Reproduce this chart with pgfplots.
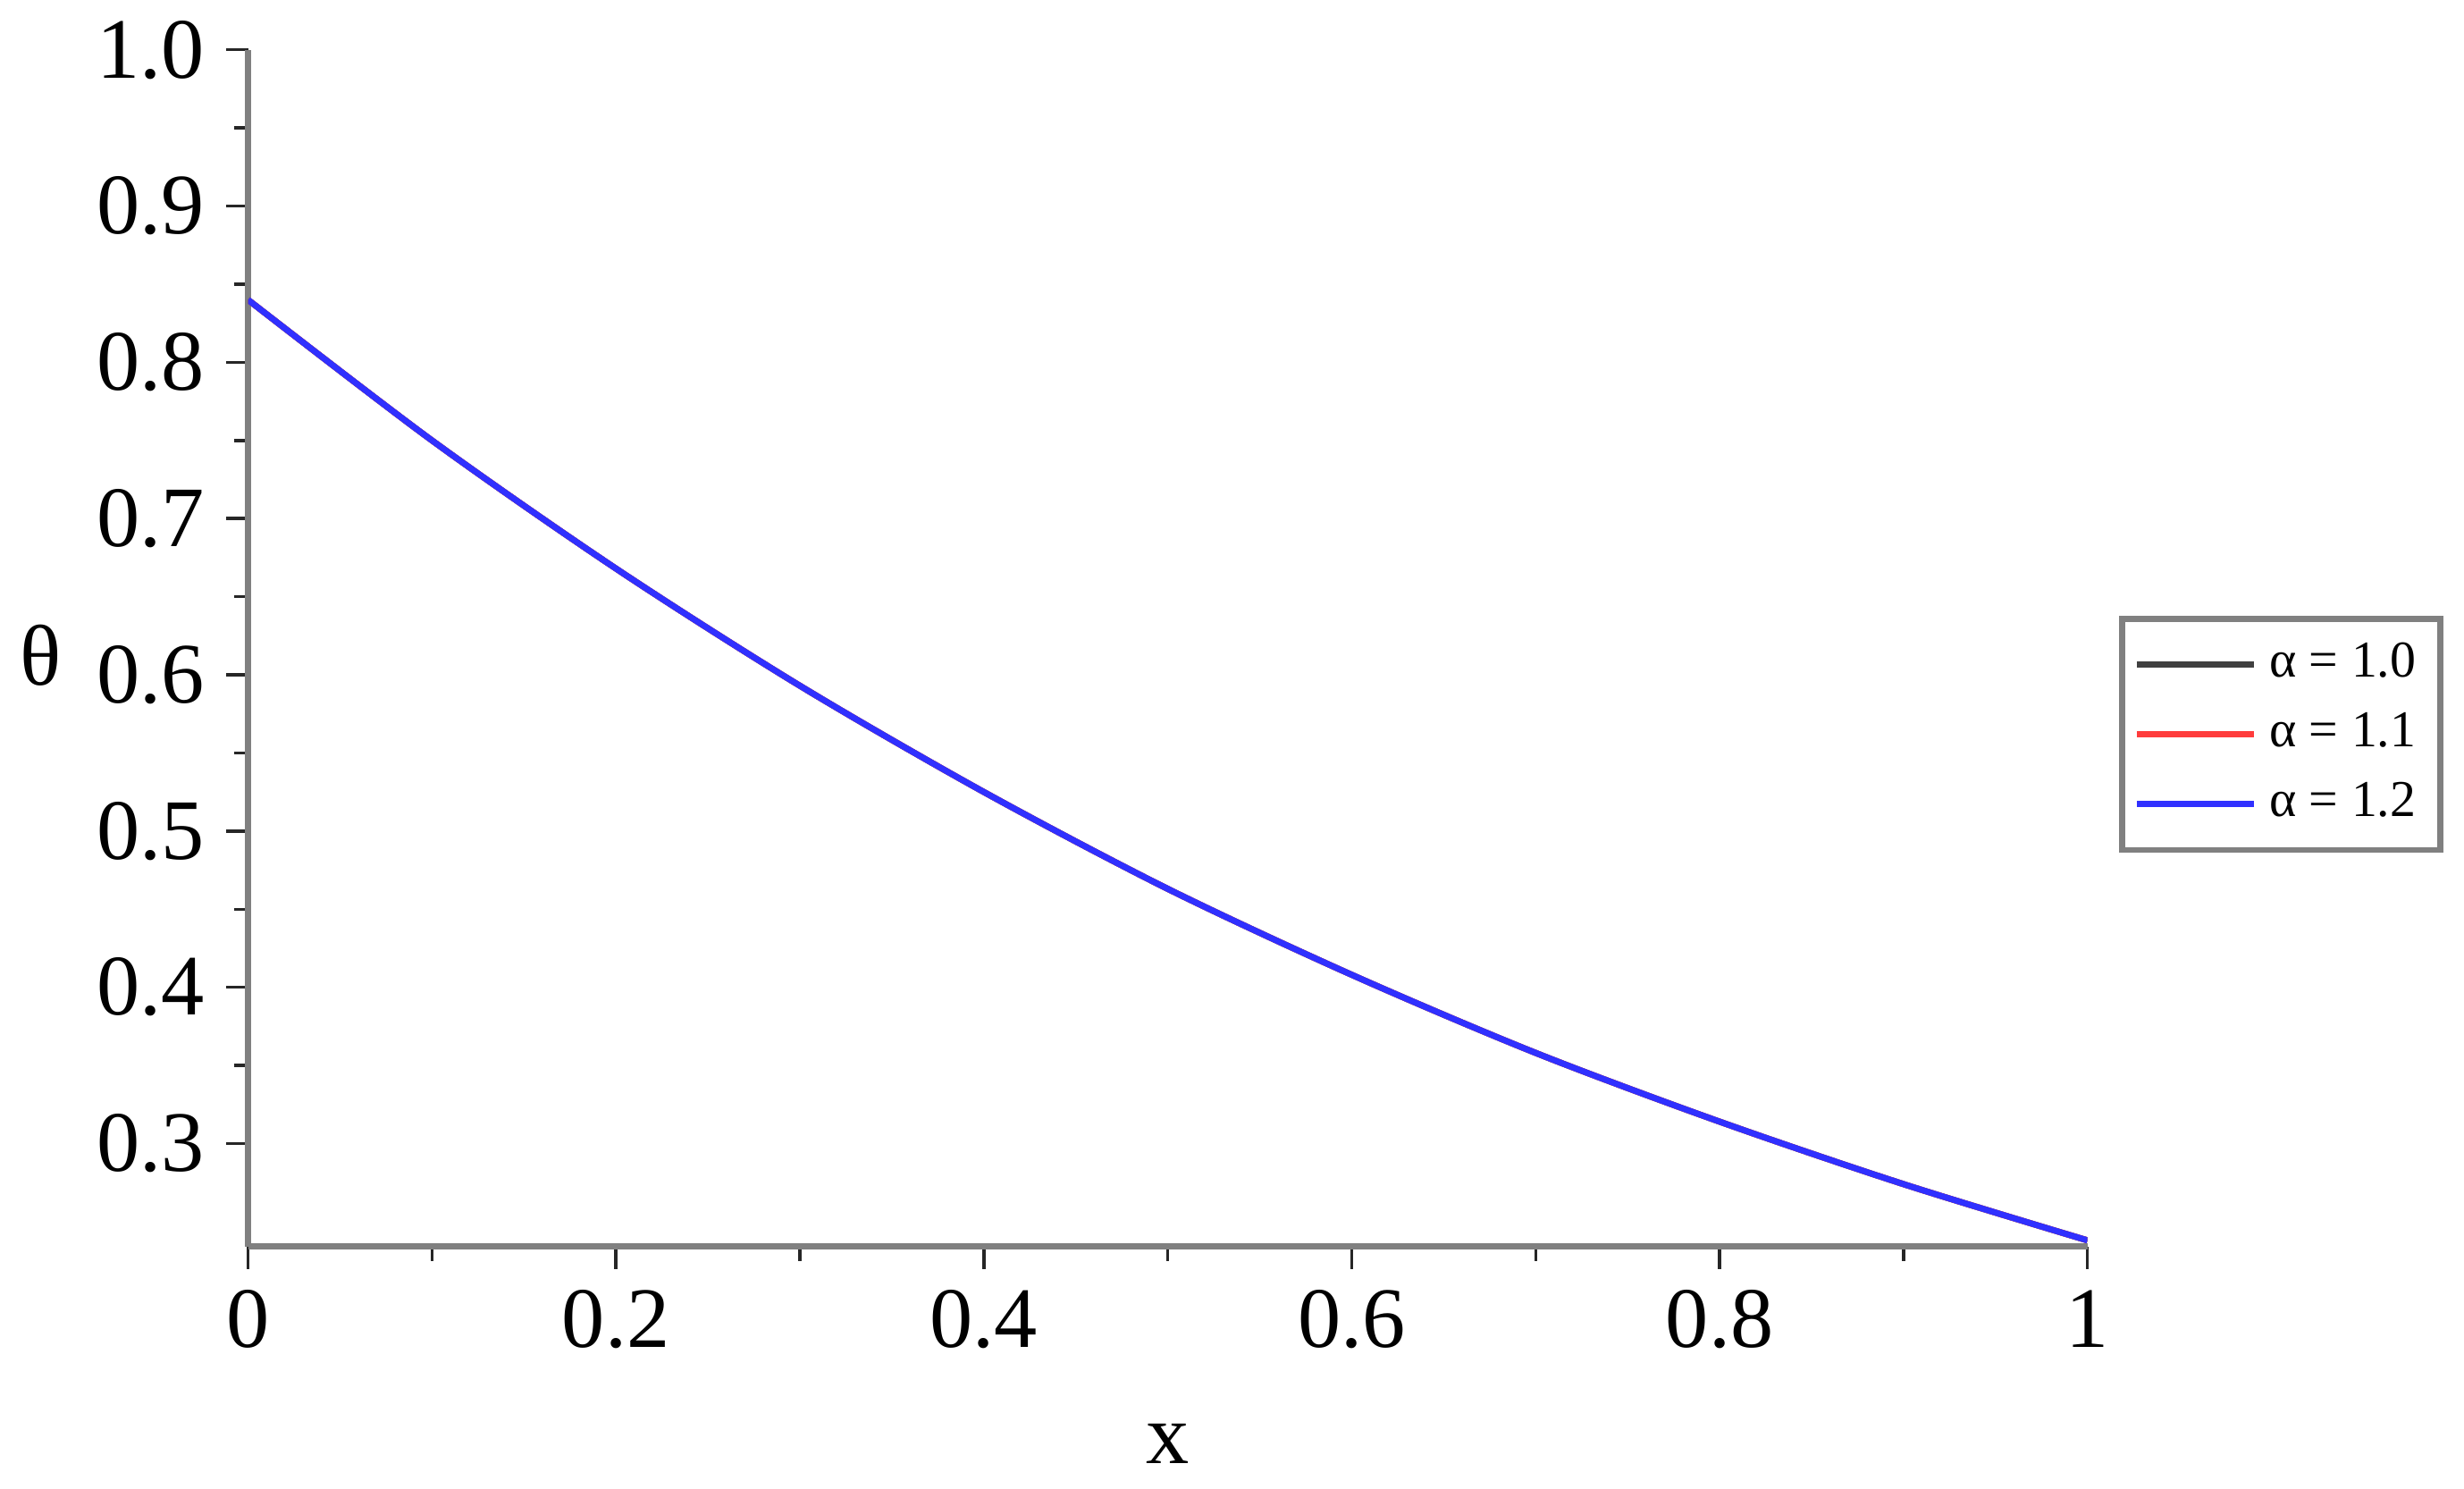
\documentclass[border=0pt]{standalone}
\usepackage{pgfplots}
\usepackage{pgfplotstable}
\pgfplotsset{compat=1.18}
\usepackage{fontspec}
\setmainfont{Liberation Serif}

\definecolor{axgray}{HTML}{808080}
\definecolor{cblack}{HTML}{404040}
\definecolor{cred}{HTML}{FF3C3C}
\definecolor{cblue}{HTML}{3030FF}

% theta(x) for the three alpha values (curves coincide)
\pgfplotstableread{
x     a10    a11    a12
0.0   0.840  0.840  0.840
0.1   0.750  0.750  0.750
0.2   0.668  0.668  0.668
0.3   0.593  0.593  0.593
0.4   0.525  0.525  0.525
0.5   0.463  0.463  0.463
0.6   0.408  0.408  0.408
0.7   0.358  0.358  0.358
0.8   0.314  0.314  0.314
0.9   0.274  0.274  0.274
1.0   0.238  0.238  0.238
}\thetadata

\begin{document}
\begin{tikzpicture}
\begin{axis}[
    name=ax,
    scale only axis,
    width=299.1pt, height=194.6pt,
    xmin=0, xmax=1,
    ymin=0.234, ymax=1.0,
    axis x line*=bottom,
    axis y line*=left,
    axis line style={axgray, line width=1pt, -},
    tick align=outside,
    tick style={black!85, line width=0.5pt},
    major tick length=3.6pt,
    minor tick length=2.3pt,
    xtick={0,0.2,0.4,0.6,0.8,1},
    ytick={0.3,0.4,0.5,0.6,0.7,0.8,0.9,1.0},
    minor x tick num=1,
    minor y tick num=1,
    yticklabel style={/pgf/number format/fixed, /pgf/number format/precision=1, /pgf/number format/fixed zerofill},
    /pgf/number format/assume math mode=true,
    ticklabel style={font=\fontsize{14}{16}\selectfont},
    xlabel={x},
    ylabel={θ},
    label style={font=\fontsize{14}{16}\selectfont},
    x label style={at={(axis description cs:0.5,-0.165)}, anchor=center},
    y label style={at={(axis description cs:-0.1125,0.494)}, rotate=-90, anchor=center},
    legend style={at={(axis description cs:1.017,0.428)}, anchor=west,
        draw=axgray, line width=1pt,
        font=\fontsize{8.4}{9.6}\selectfont,
        row sep=0.3pt, inner xsep=2pt, inner ysep=1.9pt},
    legend cell align=left,
    legend image code/.code={\draw[#1, line width=1pt] (0pt,0pt) -- (19pt,0pt);},
]
\addplot[cblack, line width=1pt, smooth] table[x=x, y=a10] {\thetadata};
\addlegendentry{α = 1.0}
\addplot[cred, line width=1pt, smooth] table[x=x, y=a11] {\thetadata};
\addlegendentry{α = 1.1}
\addplot[cblue, line width=1pt, smooth] table[x=x, y=a12] {\thetadata};
\addlegendentry{α = 1.2}
\end{axis}
\path (ax.south west) ++(-39.44pt,-39.30pt) rectangle ++(399.77pt,242.0pt);
\end{tikzpicture}
\end{document}
